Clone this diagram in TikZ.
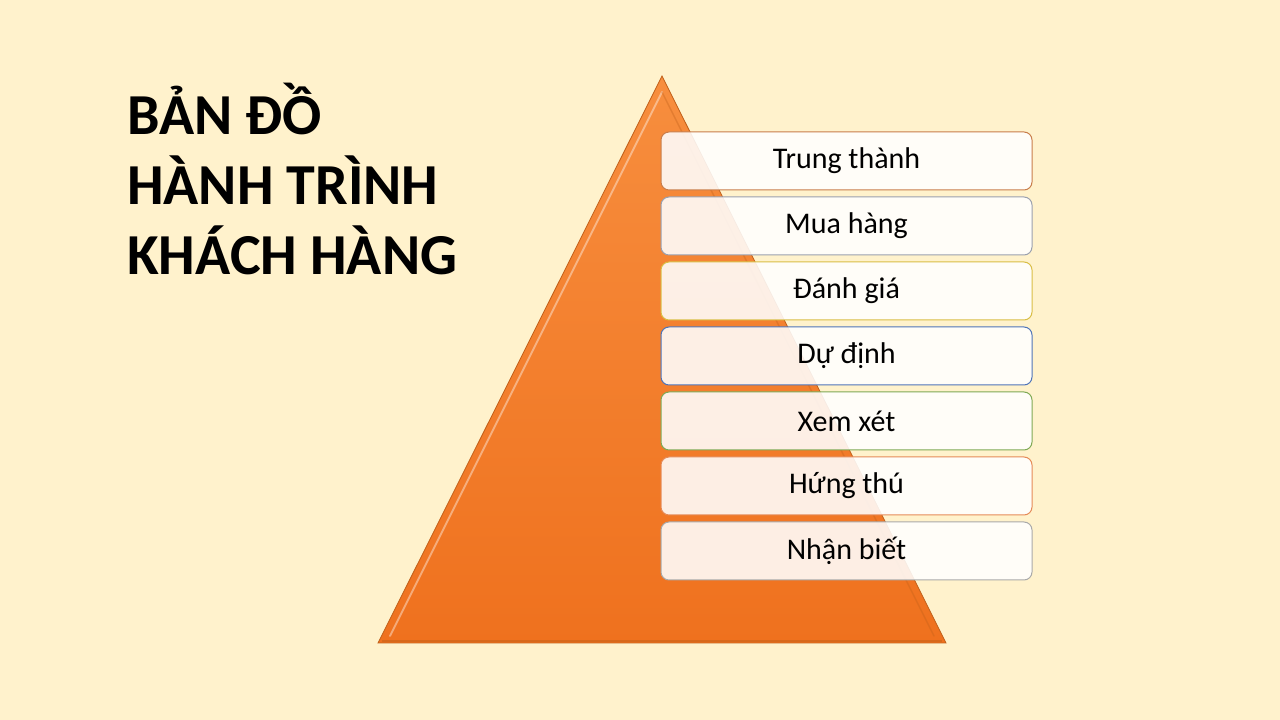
\documentclass[tikz,border=0pt]{standalone}
\usepackage{fontspec}
\setmainfont{Carlito}
\usetikzlibrary{positioning}
\definecolor{fond}{HTML}{FFF2CC}
\definecolor{pyrHaut}{HTML}{F78E3E}
\definecolor{pyrBas}{HTML}{EF711E}
\definecolor{pyrBord}{HTML}{C0601A}
\definecolor{bord1}{HTML}{C87D4A}
\definecolor{bord2}{HTML}{9AA0AE}
\definecolor{bord3}{HTML}{D9BE45}
\definecolor{bord4}{HTML}{4F74B8}
\definecolor{bord5}{HTML}{7FA954}
\definecolor{bord6}{HTML}{E58A57}
\definecolor{bord7}{HTML}{A9A9A9}
\tikzset{
  etape/.style={draw, rounded corners=8pt, fill=white, fill opacity=0.88,
    text opacity=1, line width=1pt, outer sep=0pt,
    minimum width=371pt, minimum height=58pt,
    font=\fontsize{30}{34}\selectfont},
  titre/.style={anchor=base west, inner sep=0pt,
    font=\fontsize{58}{70}\selectfont\bfseries}
}
\begin{document}
\begin{tikzpicture}[x=1pt,y=1pt,node distance=7pt]
        \useasboundingbox (0,0) rectangle (1280,720);
        \fill[fond] (0,0) rectangle (1280,720);

        % titre
        \node[titre] (titre1) at (127,585) {BẢN ĐỒ};
        \node[titre] (titre2) at (127,515) {HÀNH TRÌNH};
        \node[titre] (titre3) at (127,445) {KHÁCH HÀNG};

        % dessin de la pyramide
        \shade[top color=pyrHaut, bottom color=pyrBas, draw=pyrBord, line width=0.8pt]
        (378,77) -- (946,77) -- (662,644) -- cycle;
        % reflets du biseau
        \draw[white, opacity=0.4, line width=2pt, line cap=round]
        (390,84) -- (662,628);
        \draw[pyrBord, opacity=0.35, line width=1.5pt, line cap=round]
        (662,628) -- (934,84);
        \draw[pyrBord, opacity=0.5, line width=1.5pt]
        (382,79) -- (942,79);

        % les etapes, du haut vers le bas
        \node[etape, draw=bord1] (trung) at (846.5,559) {Trung thành};
        \node[etape, draw=bord2, below=of trung] (mua) {Mua hàng};
        \node[etape, draw=bord3, below=of mua] (danh) {Đánh giá};
        \node[etape, draw=bord4, below=of danh] (dudinh) {Dự định};
        \node[etape, draw=bord5, below=of dudinh] (xem) {Xem xét};
        \node[etape, draw=bord6, below=of xem] (hung) {Hứng thú};
        \node[etape, draw=bord7, below=of hung] (nhan) {Nhận biết};
    \end{tikzpicture}
\end{document}
